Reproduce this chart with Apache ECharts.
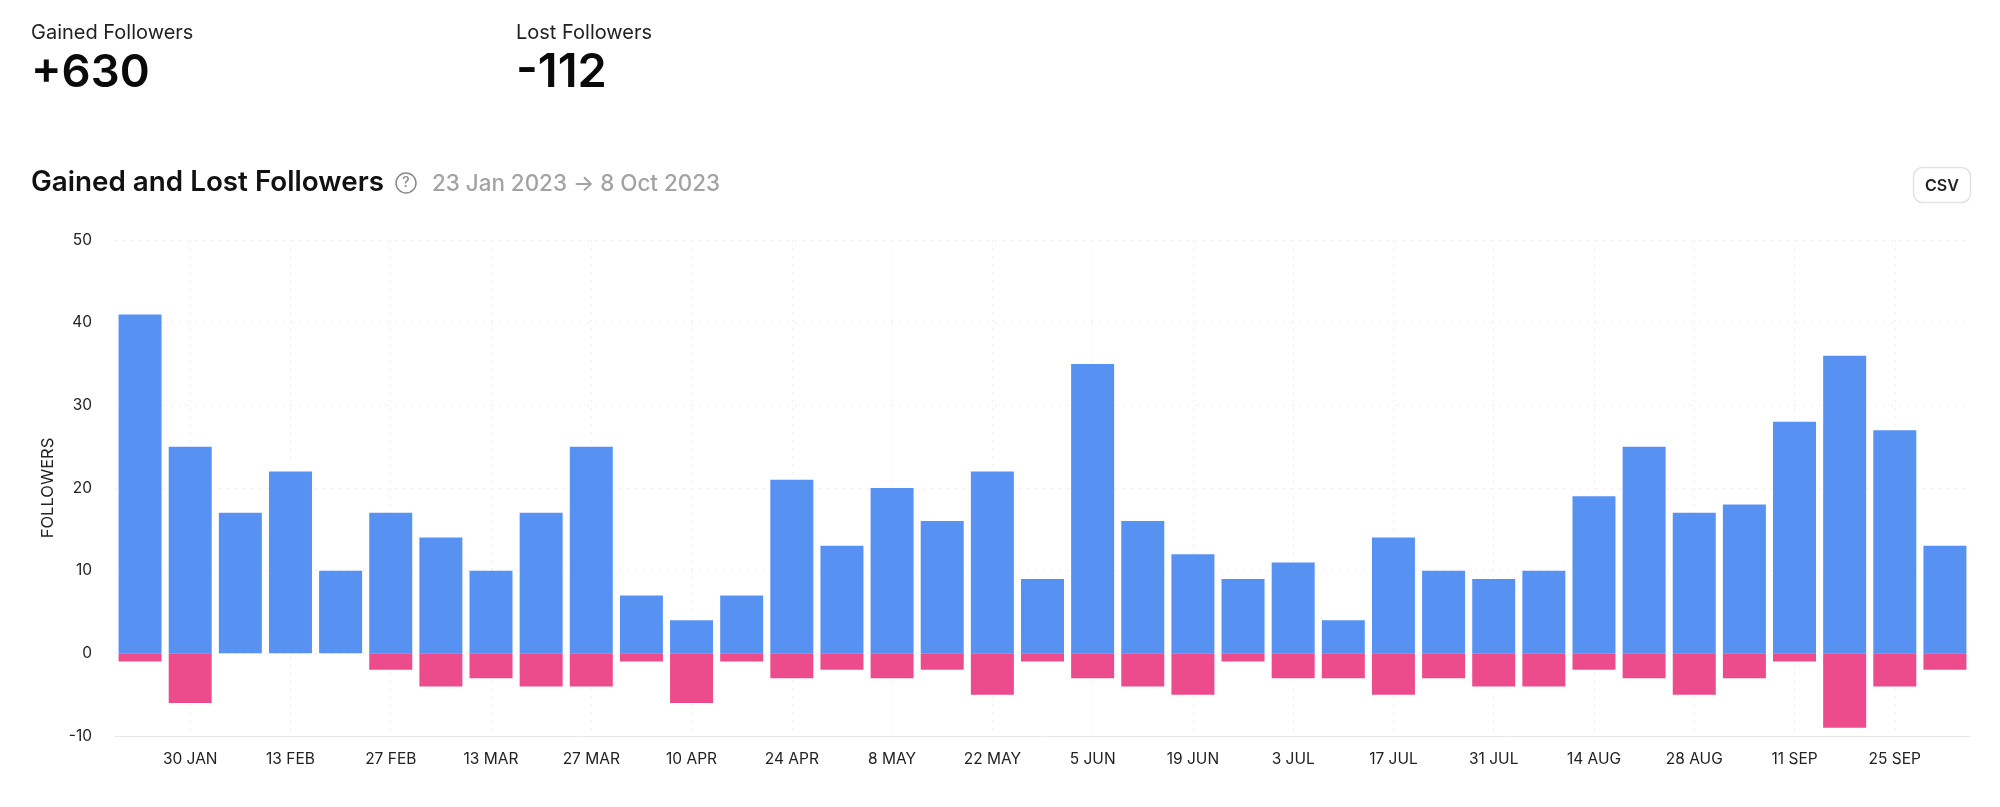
<!DOCTYPE html>
<html><head><meta charset="utf-8">
<style>html,body{margin:0;padding:0;background:#fff}#c{width:2000px;height:807px}</style>
<script src="https://cdn.jsdelivr.net/npm/echarts@6/dist/echarts.min.js"></script>
</head><body><div id="c"></div>
<script>
const weeks = ['23 JAN','30 JAN','6 FEB','13 FEB','20 FEB','27 FEB','6 MAR','13 MAR','20 MAR','27 MAR','3 APR','10 APR','17 APR','24 APR','1 MAY','8 MAY','15 MAY','22 MAY','29 MAY','5 JUN','12 JUN','19 JUN','26 JUN','3 JUL','10 JUL','17 JUL','24 JUL','31 JUL','7 AUG','14 AUG','21 AUG','28 AUG','4 SEP','11 SEP','18 SEP','25 SEP','2 OCT'];
const gained = [41,25,17,22,10,17,14,10,17,25,7,4,7,21,13,20,16,22,9,35,16,12,9,11,4,14,10,9,10,19,25,17,18,28,36,27,13];
const lost = [-1,-6,0,0,0,-2,-4,-3,-4,-4,-1,-6,-1,-3,-2,-3,-2,-5,-1,-3,-4,-5,-1,-3,-3,-5,-3,-4,-4,-2,-3,-5,-3,-1,-9,-4,-2];
const FONT = 'Inter';
const odd = (i) => i % 2 === 1;
const txt = (x, y, text, size, weight, fill, align) => ({
  type: 'text', x, y,
  style: { text, fontFamily: FONT, fontSize: size, fontWeight: weight, fill, textAlign: align || 'left', textVerticalAlign: 'middle' }
});
const chart = echarts.init(document.getElementById('c'), null, { renderer: 'canvas' });
chart.setOption({
  animation: false,
  backgroundColor: '#fff',
  textStyle: { fontFamily: FONT },
  grid: { left: 115, width: 1855, top: 240, height: 496, containLabel: false },
  xAxis: {
    type: 'category', data: weeks,
    axisLine: { onZero: false, lineStyle: { color: '#e8e8e8', width: 1 } },
    axisTick: { alignWithLabel: true, interval: (i) => odd(i), length: 5, lineStyle: { color: '#e0e0e0' } },
    axisLabel: { interval: (i) => odd(i), color: '#222', fontSize: 15.5, margin: 15, fontFamily: FONT },
    splitLine: { show: true, alignWithLabel: true, interval: (i) => odd(i), lineStyle: { color: '#efefef', type: [2, 6], width: 1 } }
  },
  yAxis: {
    type: 'value', min: -10, max: 50, interval: 10,
    name: 'FOLLOWERS', nameLocation: 'middle', nameGap: 58,
    nameTextStyle: { color: '#222', fontSize: 16.5, fontFamily: FONT },
    axisLine: { show: false }, axisTick: { show: false },
    axisLabel: { color: '#222', fontSize: 15.5, margin: 23, fontFamily: FONT },
    splitLine: { lineStyle: { color: '#efefef', type: [2, 6], width: 1 } }
  },
  series: [
    { name: 'Gained', type: 'bar', stack: 'f', data: gained, barWidth: 43, itemStyle: { color: '#5792f3' } },
    { name: 'Lost', type: 'bar', stack: 'f', data: lost, barWidth: 43, itemStyle: { color: '#ec4c8b' } }
  ],
  graphic: { elements: [
    txt(31, 33, 'Gained Followers', 20, 400, '#222'),
    txt(31, 73, '+630', 45.5, 600, '#0a0a0a'),
    txt(516, 33, 'Lost Followers', 20, 400, '#222'),
    txt(516, 73, '-112', 47, 600, '#0a0a0a'),
    txt(31, 183, 'Gained and Lost Followers', 27.8, 600, '#111'),
    { type: 'circle', shape: { cx: 406, cy: 183, r: 10 }, style: { fill: 'none', stroke: '#8a8a8a', lineWidth: 1.5 } },
    txt(406, 183, '?', 14, 500, '#8a8a8a', 'center'),
    txt(432, 184, '23 Jan 2023 → 8 Oct 2023', 22.4, 500, '#a3a3a3'),
    { type: 'rect', shape: { x: 1913.5, y: 167.5, width: 57, height: 35, r: 9 }, style: { fill: '#fff', stroke: '#e2e2e2', lineWidth: 1.5 } },
    txt(1942, 186, 'CSV', 16, 600, '#222', 'center')
  ] }
});
</script></body></html>
